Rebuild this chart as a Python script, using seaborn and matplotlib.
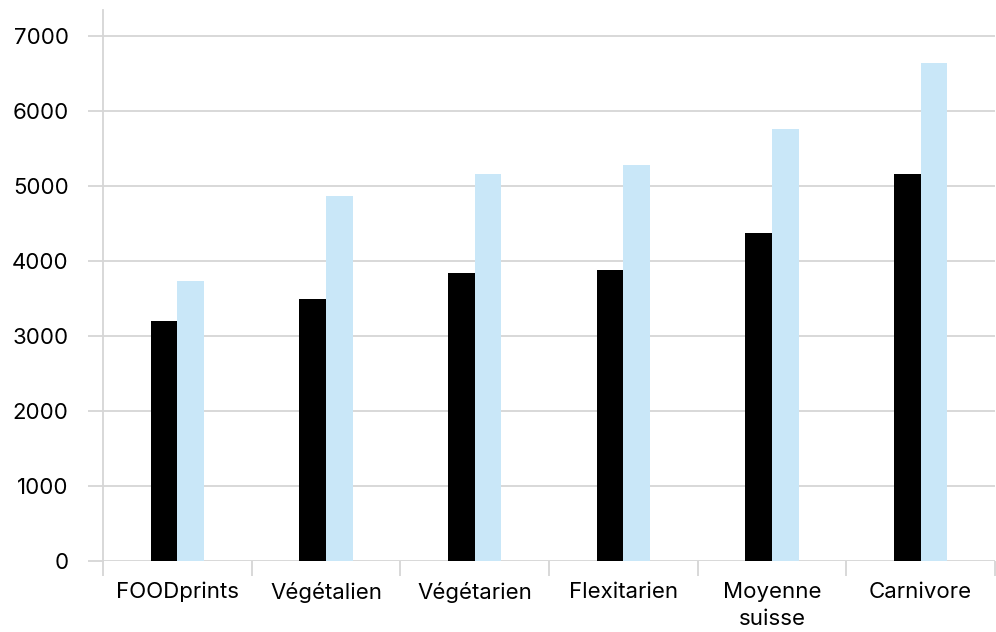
import matplotlib
matplotlib.use("Agg")
import matplotlib.pyplot as plt
from matplotlib.ticker import FixedLocator
import seaborn as sns
import pandas as pd

# Régimes alimentaires comparés
categories = ["FOODprints", "Végétalien", "Végétarien", "Flexitarien", "Moyenne\nsuisse", "Carnivore"]
series_names = ["Série A", "Série B"]
values_a = [3200, 3490, 3835, 3875, 4365, 5150]
values_b = [3730, 4860, 5150, 5270, 5750, 6630]
y_ticks = [0, 1000, 2000, 3000, 4000, 5000, 6000, 7000]

df = pd.DataFrame({
    "categorie": categories * 2,
    "serie": [series_names[0]] * len(categories) + [series_names[1]] * len(categories),
    "valeur": values_a + values_b,
})

sns.set_theme(style="white")
plt.rcParams["font.family"] = ["Inter", "DejaVu Sans"]

fig = plt.figure(figsize=(9.96, 6.32), dpi=100)
ax = fig.add_axes([103 / 996, 1 - 561 / 632, (995 - 103) / 996, (561 - 10) / 632])

sns.barplot(
    data=df, x="categorie", y="valeur", hue="serie",
    order=categories, hue_order=series_names,
    palette=["#000000", "#c9e7f8"], width=0.36, gap=0,
    saturation=1, linewidth=0, legend=False, ax=ax,
)

grid_color = "#d6d6d6"
ax.set_ylim(0, 7340)
ax.set_xlim(-0.5, len(categories) - 0.5)
ax.set_yticks(y_ticks)
ax.set_yticklabels([str(v) for v in y_ticks])
ax.yaxis.grid(True, color=grid_color, linewidth=1.3)
ax.set_axisbelow(True)
ax.set_xlabel("")
ax.set_ylabel("")

for side in ["top", "right", "bottom"]:
    ax.spines[side].set_visible(False)
ax.spines["left"].set_color(grid_color)
ax.spines["left"].set_linewidth(1.3)

ax.tick_params(axis="y", which="major", length=10.8, width=1.3, color=grid_color,
               pad=14, labelsize=16, labelcolor="#000000")
ax.tick_params(axis="x", which="major", length=0, pad=15, labelsize=16, labelcolor="#000000")

# Séparateurs entre les catégories
ax.xaxis.set_minor_locator(FixedLocator([i - 0.5 for i in range(len(categories) + 1)]))
ax.tick_params(axis="x", which="minor", length=11, width=1.3, color=grid_color, bottom=True)
ax.tick_params(axis="y", which="major", left=True)

for lbl in ax.get_xticklabels():
    lbl.set_linespacing(1.45)

fig.savefig("out.png", dpi=100, facecolor="white")
